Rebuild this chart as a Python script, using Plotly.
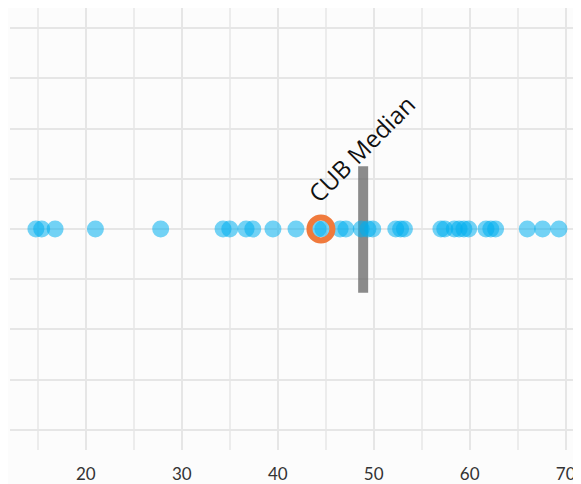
import plotly.graph_objects as go

# Values
values = [14.8, 15.4, 16.8, 21.0, 27.8,
          34.3, 35.0, 36.7, 37.4, 39.5, 41.9, 44.2, 44.7, 46.5, 47.1,
          48.7, 49.4, 49.9, 52.3, 52.8, 53.2, 57.0, 57.4, 58.4, 58.9,
          59.4, 59.9, 61.7, 62.2, 62.7, 66.0, 67.6, 69.3]
highlight_value = [44.5]
median_value = 48.9
median_label = "CUB Median"
tick_values = [20, 30, 40, 50, 60, 70]
tick_labels = ["20", "30", "40", "50", "60", "70"]

fig = go.Figure()

fig.add_trace(go.Scatter(
    x=[median_value, median_value], y=[-1.27, 1.25], mode="lines",
    line=dict(color="rgba(110,110,110,0.8)", width=10),
    hoverinfo="skip", showlegend=False))

fig.add_trace(go.Scatter(
    x=values, y=[0] * len(values), mode="markers",
    marker=dict(size=17, color="rgba(0,174,239,0.55)",
                line=dict(width=0)),
    showlegend=False))

fig.add_trace(go.Scatter(
    x=highlight_value, y=[0], mode="markers",
    marker=dict(size=23, color="rgba(0,0,0,0)",
                line=dict(width=6, color="#F07A3C")),
    showlegend=False))

fig.add_annotation(x=48.7, y=1.61, text=median_label, showarrow=False,
                   textangle=-45, font=dict(size=24, color="#111",
                                             family="Open Sans"))

fig.update_layout(
    width=573, height=476,
    margin=dict(l=2, r=0, t=0, b=34, autoexpand=False),
    paper_bgcolor="#fcfcfc", plot_bgcolor="#fcfcfc",
    xaxis=dict(range=[12.1, 71.6], tickvals=tick_values, ticktext=tick_labels,
               showgrid=True, gridcolor="#e6e6e6", gridwidth=2,
               minor=dict(dtick=5, tick0=0, showgrid=True,
                          gridcolor="#ececec", gridwidth=1.5),
               ticks="outside", ticklen=9, tickcolor="rgba(0,0,0,0)",
               zeroline=False, showline=False, automargin=False,
               tickfont=dict(size=17, color="#333", family="Lato")),
    yaxis=dict(range=[-4.4, 4.4], dtick=1, showticklabels=False,
               showgrid=True, gridcolor="#e6e6e6", gridwidth=2,
               zeroline=False, showline=False, automargin=False),
)

fig.write_html("out.html")
